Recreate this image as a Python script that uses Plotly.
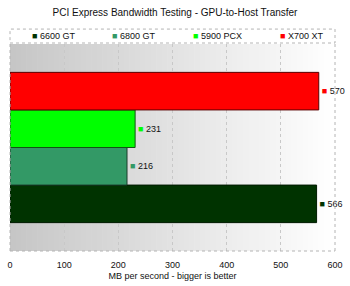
import plotly.graph_objects as go

series = ["6600 GT", "6800 GT", "5900 PCX", "X700 XT"]
values = [566, 216, 231, 570]
colors = ["#003300", "#339966", "#00ff00", "#ff0000"]
outlines = ["#001a00", "#1a3d2a", "#145214", "#5a0000"]
x_ticks = [0, 100, 200, 300, 400, 500, 600]

FONT = "Liberation Sans"
fig = go.Figure()

for name, v, c, oc in zip(series, values, colors, outlines):
    fig.add_trace(go.Bar(
        x=[v], y=[0], orientation="h", name=name,
        marker=dict(color=c, line=dict(color=oc, width=1)),
        text=[f'<span style="color:{c}">■</span> {v}'],
        textposition="outside", cliponaxis=False,
        textfont=dict(family=FONT, size=9, color="#111"),
        showlegend=False,
    ))

# legend built as annotations (square + name)
legend_x = [0.063, 0.309, 0.556, 0.826]
annotations = []
for name, c, lx in zip(series, colors, legend_x):
    annotations.append(dict(
        text=f'<span style="color:{c}">■</span> {name}', xref="paper", yref="paper",
        x=lx, xanchor="left", y=1 + 8 / 208, yanchor="middle", showarrow=False,
        font=dict(family=FONT, size=9, color="#111")))

shapes = []
N = 60
for i in range(N):
    t = i / (N - 1)
    g = int(round(0xc6 + (0xff - 0xc6) * t))
    col = f"rgb({g},{g},{g})"
    shapes.append(dict(type="rect", xref="x domain", yref="y domain",
                       x0=i / N, x1=(i + 1) / N + 0.002, y0=0, y1=1,
                       fillcolor=col, line=dict(width=0), layer="below"))
dash = dict(color="#b4b4b4", width=1, dash="dot")
shapes.append(dict(type="line", xref="x domain", yref="y domain", x0=0, x1=0, y0=0, y1=1, line=dash))
shapes.append(dict(type="line", xref="x domain", yref="y domain", x0=0, x1=1, y0=0, y1=0, line=dash))
shapes.append(dict(type="line", xref="x domain", yref="y domain", x0=1, x1=1, y0=0, y1=1, line=dash))
shapes.append(dict(type="rect", xref="paper", yref="paper", x0=0, x1=1,
                   y0=1 + 1 / 208, y1=1 + 15 / 208, line=dash, fillcolor="rgba(0,0,0,0)"))

fig.update_layout(
    width=350, height=286,
    margin=dict(l=7, r=10, t=44, b=34),
    paper_bgcolor="white", plot_bgcolor="rgba(0,0,0,0)",
    barmode="group", bargap=0.274, bargroupgap=0,
    showlegend=False,
    title=dict(text="PCI Express Bandwidth Testing - GPU-to-Host Transfer",
               x=0.5, xanchor="center", y=1 - 12 / 286, yanchor="middle",
               font=dict(family=FONT, size=10, color="#111")),
    xaxis=dict(range=[0, 600], tickvals=x_ticks, showgrid=True,
               gridcolor="#c8c8c8", griddash="dot", zeroline=False, showline=False,
               ticks="", ticklabelstandoff=7,
               tickfont=dict(family=FONT, size=9, color="#111"),
               title=dict(text="MB per second - bigger is better", standoff=3,
                          font=dict(family=FONT, size=9, color="#111"))),
    yaxis=dict(range=[-0.5, 0.5], showticklabels=False, showgrid=False, zeroline=False,
               fixedrange=True),
    shapes=shapes,
    annotations=annotations,
)

fig.write_html("out.html")
